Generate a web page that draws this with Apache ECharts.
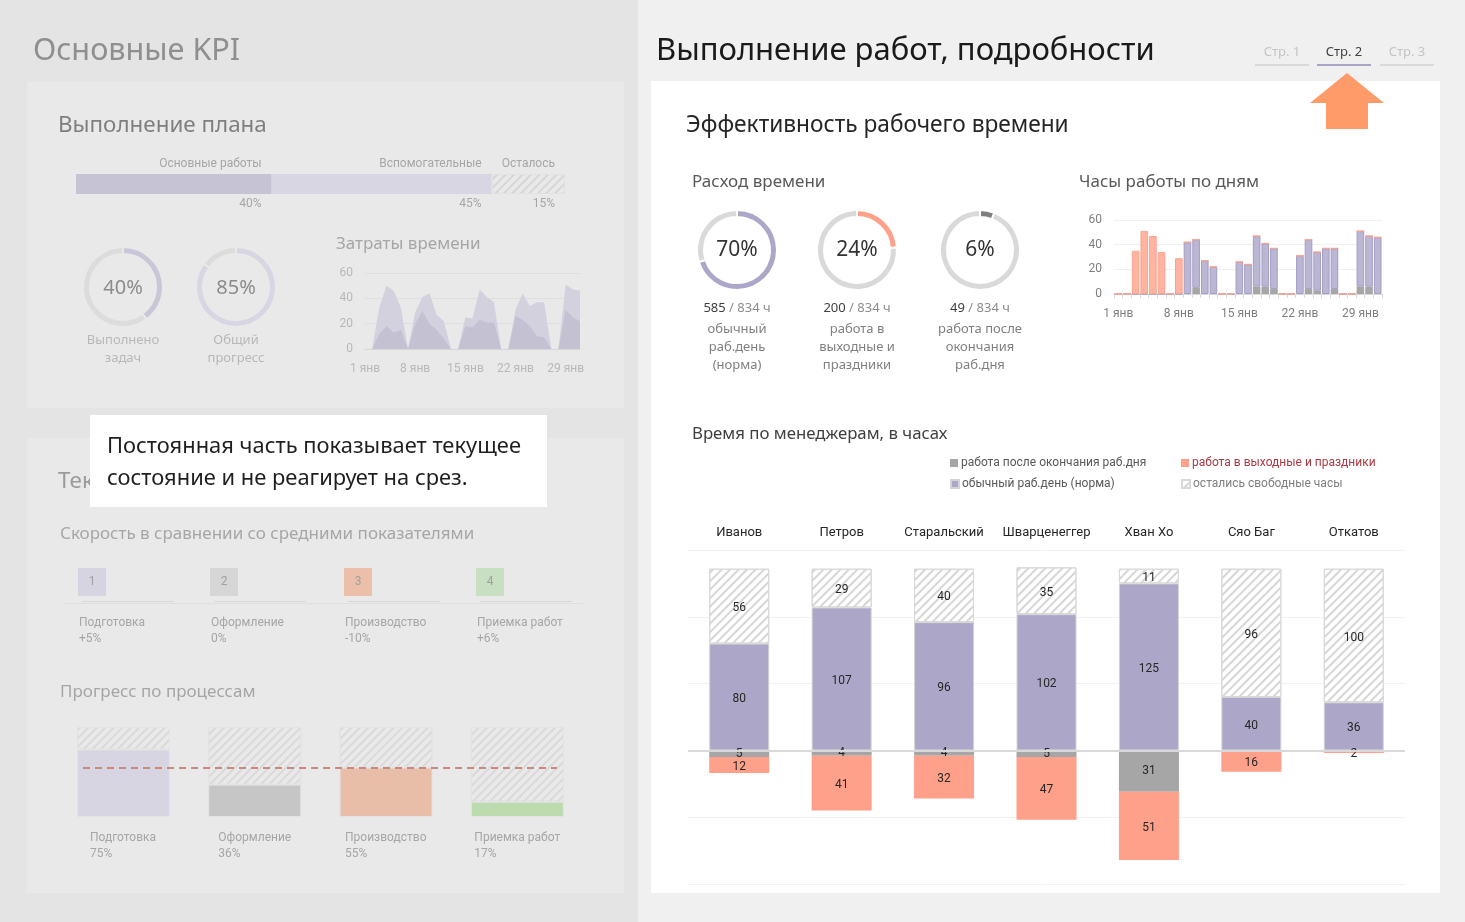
<!DOCTYPE html>
<html><head><meta charset="utf-8">
<script src="https://cdn.jsdelivr.net/npm/echarts@6/dist/echarts.min.js"></script>
<style>html,body{margin:0;padding:0;background:#f0f0f0;overflow:hidden}#c{width:1465px;height:922px}</style>
</head><body><div id="c"></div>
<script>
// ---------- DATA ----------
const planNames = ['Основные работы', 'Вспомогательные', 'Осталось'];
const planValues = [40, 45, 15];
const kpiNames = [['Выполнено', 'задач'], ['Общий', 'прогресс']];
const kpiValues = [40, 85];
const dayLabels = ['1 янв','2 янв','3 янв','4 янв','5 янв','6 янв','7 янв','8 янв','9 янв','10 янв','11 янв','12 янв','13 янв','14 янв','15 янв','16 янв','17 янв','18 янв','19 янв','20 янв','21 янв','22 янв','23 янв','24 янв','25 янв','26 янв','27 янв','28 янв','29 янв','30 янв','31 янв'];
const costTotal = [0,0,33,50,46,33,0,29,41,44,27,22,0,0,25,24,47,41,37,0,0,31,44,34,37,37,0,0,51,47,46];
const costInner = [0,0,12,18,13,15,0,20,30,20,15,8,0,0,18,17,23,21,21,0,0,26,23,18,10,9,0,0,31,25,22];
const speedNums = ['1', '2', '3', '4'];
const speedNames = ['Подготовка', 'Оформление', 'Производство', 'Приемка работ'];
const speedValues = ['+5%', '0%', '-10%', '+6%'];
const progressNames = ['Подготовка', 'Оформление', 'Производство', 'Приемка работ'];
const progressValues = [75, 36, 55, 17];
const progressAvg = 55;

const donutValues = [585, 200, 49];
const donutTotal = 834;
const donutNames = [['обычный', 'раб.день', '(норма)'], ['работа в', 'выходные и', 'праздники'], ['работа после', 'окончания', 'раб.дня']];

const dailyNorm    = [0,0,0,0,0,0,0,0,42,39,27,22,0,0,26,24,41,35,33,0,0,31,40,31,37,33,0,0,45,41,46];
const dailyWeekend = [0,0,35,51,47,34,0,29,0,0,0,0,0,0,0,0,0,0,0,0,0,0,0,0,0,0,0,0,0,0,0];
const dailyAfter   = [0,0,0,0,0,0,0,0,0,5,0,0,0,0,0,0,6,6,4,0,0,0,4,3,0,4,0,0,6,6,0];

const managers = ['Иванов', 'Петров', 'Старальский', 'Шварценеггер', 'Хван Хо', 'Сяо Баг', 'Откатов'];
const mgrNorm    = [80, 107, 96, 102, 125, 40, 36];
const mgrFree    = [56, 29, 40, 35, 11, 96, 100];
const mgrAfter   = [5, 4, 4, 5, 31, 0, 0];
const mgrWeekend = [12, 41, 32, 47, 51, 16, 2];

const seriesNames = ['работа после окончания раб.дня', 'работа в выходные и праздники', 'обычный раб.день (норма)', 'остались свободные часы'];

// ---------- STYLE ----------
const FONT = '"Noto Sans", "Open Sans", sans-serif';
const SMALL = 'Roboto, "Noto Sans", sans-serif';
const C_NORM = '#aca7c8', C_WEEK = '#ffa08a', C_AFTER = '#a6a6a6', C_EMPTY = '#d9d9d9';
const mctx = document.createElement('canvas').getContext('2d');
function textWidth(s, size, fam) { mctx.font = size + 'px ' + fam; return mctx.measureText(s).width; }
function hatch(bg, line, border) {
  return { color: bg, borderColor: border, borderWidth: 1,
    decal: { symbol: 'rect', symbolSize: 1, dashArrayX: [1, 0], dashArrayY: [1.5, 4], rotation: -Math.PI / 4, color: line } };
}
function txt(x, y, text, size, color, align, extra) {
  return { type: 'text', x: x, y: y, z: 20, silent: true,
    style: Object.assign({ text: text, fontSize: size, fill: color, fontFamily: FONT,
      align: align || 'left', verticalAlign: 'middle', textAlign: align || 'left', textVerticalAlign: 'middle' }, extra || {}) };
}
function rect(x, y, w, h, fill, z, extra) {
  return Object.assign({ type: 'rect', silent: true, z: z == null ? -10 : z, shape: { x: x, y: y, width: w, height: h }, style: { fill: fill } }, extra || {});
}

const g = [];
// backgrounds
g.push(rect(0, 0, 638, 922, '#e4e4e4', -20));
g.push(rect(638, 0, 827, 922, '#f0f0f0', -20));
g.push(rect(27, 82, 597, 326, '#e9e9e9', -15));
g.push(rect(27, 438, 597, 455, '#e9e9e9', -15));
g.push(rect(651, 81, 789, 812, '#ffffff', -15));

// left titles
g.push(txt(33, 51, 'Основные KPI', 30.6, '#8f8f8f'));
g.push(txt(58, 126, 'Выполнение плана', 22.4, '#7f7f7f'));
g.push(txt(336, 244, 'Затраты времени', 17, '#a6a6a6'));
g.push(txt(58, 482, 'Текущее состояние', 22.4, '#9a9a9a'));
g.push(txt(60, 534, 'Скорость в сравнении со средними показателями', 17, '#a6a6a6'));
g.push(txt(60, 692, 'Прогресс по процессам', 17, '#a6a6a6'));

// KPI donut texts
const kpiCenters = [123, 236];
kpiValues.forEach((v, i) => {
  g.push(txt(kpiCenters[i], 288, v + '%', 20, '#8c8c8c', 'center'));
  kpiNames[i].forEach((s, j) => g.push(txt(kpiCenters[i], 340 + j * 18, s, 13, '#b8b8b8', 'center')));
});

// speed blocks
const speedX = [78, 210, 344, 476];
const speedColors = ['#d6d4e1', '#d6d6d6', '#ebbfa9', '#c9dfc1'];
g.push(rect(63, 603, 520, 1, '#dfdfdf', -5));
speedNums.forEach((n, i) => {
  g.push(rect(speedX[i], 568, 28, 28, speedColors[i], -5));
  g.push(txt(speedX[i] + 14, 582, n, 12, '#a0a0a0', 'center', { fontFamily: SMALL }));
  g.push(rect(speedX[i] + 4, 601, 92, 1, '#d8d8d8', -5));
  g.push(txt(speedX[i] + 1, 623, speedNames[i], 12, '#a6a6a6', 'left', { fontFamily: SMALL }));
  g.push(txt(speedX[i] + 1, 639, speedValues[i], 12, '#a6a6a6', 'left', { fontFamily: SMALL }));
});

// callout
g.push(rect(90, 415, 457, 92, '#ffffff', 50));
g.push(txt(107, 447, 'Постоянная часть показывает текущее', 21.9, '#1f1f1f', 'left'));
g.push(txt(107, 479, 'состояние и не реагирует на срез.', 21.9, '#1f1f1f', 'left'));
g[g.length - 1].z = 60; g[g.length - 2].z = 60;

// right titles
g.push(txt(656, 51, 'Выполнение работ, подробности', 31, '#1a1a1a'));
g.push(txt(686, 126, 'Эффективность рабочего времени', 22.7, '#262626'));
g.push(txt(692, 182, 'Расход времени', 17, '#595959'));
g.push(txt(1079, 182, 'Часы работы по дням', 17, '#595959'));
g.push(txt(692, 434, 'Время по менеджерам, в часах', 16.8, '#404040'));

// tabs
const tabs = ['Стр. 1', 'Стр. 2', 'Стр. 3'];
const tabX = [1282, 1344, 1407];
tabs.forEach((t, i) => {
  const active = i === 1;
  g.push(txt(tabX[i], 52, t, 13, active ? '#404040' : '#c4c4c4', 'center'));
  g.push(rect(tabX[i] - 27, 64, 54, 2, active ? '#a9a5c6' : '#d9d9d9', -5));
});
g.push({ type: 'polygon', silent: true, z: 5, shape: { points: [[1347, 73], [1384, 103], [1368, 103], [1368, 129], [1326, 129], [1326, 103], [1310, 103]] }, style: { fill: '#ff9b68' } });

// donut texts
const donutX = [737, 857, 980];
donutValues.forEach((v, i) => {
  g.push(txt(donutX[i], 250, Math.round(v / donutTotal * 100) + '%', 21, '#333333', 'center'));
  g.push({ type: 'text', x: donutX[i], y: 308, z: 20, silent: true, style: {
    text: '{a|' + v + '} {b|/ ' + donutTotal + ' ч}', align: 'center', verticalAlign: 'middle', textAlign: 'center', textVerticalAlign: 'middle',
    rich: { a: { fontSize: 13, fill: '#404040', color: '#404040', fontFamily: FONT }, b: { fontSize: 13, fill: '#8c8c8c', color: '#8c8c8c', fontFamily: FONT } } } });
  donutNames[i].forEach((s, j) => g.push(txt(donutX[i], 329 + j * 18, s, 13, '#808080', 'center')));
});

// ---------- CHART ----------
const chart = echarts.init(document.getElementById('c'), null, { renderer: 'canvas' });

function donut(center, r, value, total, color, restColor, border) {
  return { type: 'pie', silent: true, center: center, radius: r, startAngle: 90, clockwise: true, animation: false,
    label: { show: false }, labelLine: { show: false },
    itemStyle: { borderColor: border, borderWidth: 2 },
    data: [{ value: value, itemStyle: { color: color } }, { value: total - value, itemStyle: { color: restColor } }] };
}

const planColors = [{ color: '#c6c4d4' }, { color: '#d8d6e2' }, hatch('#e9e9e9', '#d6d6d6', '#e2e2e2')];
const barLabel = { show: true, position: 'inside', offset: [0, 2], color: '#262626', fontSize: 12, fontFamily: SMALL };

const option = {
  animation: false,
  backgroundColor: 'transparent',
  textStyle: { fontFamily: FONT },
  graphic: { elements: g },
  grid: [
    { left: 76, top: 174, width: 489, height: 20 },
    { left: 365, top: 273, width: 215, height: 76 },
    { left: 57.8, top: 727, width: 525.2, height: 90 },
    { left: 1114, top: 220, width: 268, height: 74 },
    { left: 688, top: 550, width: 717, height: 334 }
  ],
  xAxis: [
    { gridIndex: 0, type: 'value', min: 0, max: 100, show: false },
    { gridIndex: 1, type: 'category', data: dayLabels, boundaryGap: false,
      axisLine: { lineStyle: { color: '#d6d6d6' } }, axisTick: { show: false },
      axisLabel: { interval: 6, color: '#b8b8b8', fontSize: 12, fontFamily: SMALL, margin: 14 } },
    { gridIndex: 2, type: 'category', data: progressNames, axisLine: { show: false }, axisTick: { show: false },
      axisLabel: { interval: 0, margin: 13, formatter: (v, i) => '{n' + i + '|' + v + '}\n{v' + i + '|' + progressValues[i] + '%}',
        rich: (() => { const r = {}; progressNames.forEach((v, i) => {
          const w = Math.ceil(textWidth(v, 12, 'Roboto'));
          r['n' + i] = { fontSize: 12, color: '#a6a6a6', width: w, align: 'left', lineHeight: 16, fontFamily: SMALL };
          r['v' + i] = { fontSize: 12, color: '#a6a6a6', width: w, align: 'left', lineHeight: 16, fontFamily: SMALL }; }); return r; })() } },
    { gridIndex: 3, type: 'category', data: dayLabels,
      axisLine: { lineStyle: { color: '#d9d9d9' } },
      axisTick: { show: true, interval: 0, length: 4, lineStyle: { color: '#d9d9d9' } },
      axisLabel: { interval: 6, color: '#7f7f7f', fontSize: 12, fontFamily: SMALL, margin: 14 } },
    { gridIndex: 4, type: 'category', data: managers, position: 'top', axisLine: { show: false }, axisTick: { show: false },
      axisLabel: { interval: 0, color: '#262626', fontSize: 13, margin: 11, fontFamily: SMALL } }
  ],
  yAxis: [
    { gridIndex: 0, type: 'category', data: ['План'], show: false },
    { gridIndex: 1, type: 'value', min: 0, max: 60, interval: 20,
      axisLabel: { color: '#b8b8b8', fontSize: 12, margin: 12, fontFamily: SMALL },
      splitLine: { lineStyle: { color: '#dedede' } }, axisLine: { show: false }, axisTick: { show: false } },
    { gridIndex: 2, type: 'value', min: 0, max: 100, show: false },
    { gridIndex: 3, type: 'value', min: 0, max: 60, interval: 20,
      axisLabel: { color: '#7f7f7f', fontSize: 12, margin: 12, fontFamily: SMALL },
      splitLine: { lineStyle: { color: '#f0f0f0' } }, axisLine: { show: false }, axisTick: { show: false } },
    { gridIndex: 4, type: 'value', min: -100, max: 150, interval: 50,
      axisLabel: { show: false }, axisLine: { show: false }, axisTick: { show: false },
      splitLine: { lineStyle: { color: '#f2f2f2' } } }
  ],
  legend: [
    { name: seriesNames[0], pos: [950, 457], color: '#595959' },
    { name: seriesNames[1], pos: [1181, 457], color: '#a83a44' },
    { name: seriesNames[2], pos: [950, 478], color: '#595959' },
    { name: seriesNames[3], pos: [1181, 478], color: '#7f7f7f' }
  ].map(l => ({ data: [{ name: l.name, textStyle: { color: l.color } }], left: l.pos[0], top: l.pos[1], padding: 0,
    itemWidth: 8, itemHeight: 8, icon: 'rect', selectedMode: false, itemGap: 0,
    textStyle: { fontSize: 12, fontFamily: SMALL, padding: [0, 0, 0, -2] } })),
  series: [
    // plan bar
    ...planNames.map((n, i) => ({ type: 'bar', xAxisIndex: 0, yAxisIndex: 0, stack: 'plan', silent: true, barWidth: 20,
      data: [planValues[i]], itemStyle: planColors[i],
      label: { show: true, position: 'insideRight', distance: 10,
        formatter: p => '{a|' + n + '}\n{s| }\n{b|' + p.value + '%}',
        rich: { a: { fontSize: 12, color: '#a6a6a6', lineHeight: 14, fontFamily: SMALL },
                s: { fontSize: 11, lineHeight: 26, height: 26 },
                b: { fontSize: 12, color: '#a6a6a6', lineHeight: 14, fontFamily: SMALL } } } })),
    // KPI donuts
    donut([123, 287], [33, 40], kpiValues[0], 100, '#c9c7d7', '#dcdcdc', '#e9e9e9'),
    donut([236, 287], [33, 40], kpiValues[1], 100, '#d8d6e2', '#dcdcdc', '#e9e9e9'),
    // cost areas
    { type: 'line', xAxisIndex: 1, yAxisIndex: 1, data: costTotal, symbol: 'none', silent: true,
      lineStyle: { width: 0 }, areaStyle: { color: '#d3d1de', opacity: 1 } },
    { type: 'line', xAxisIndex: 1, yAxisIndex: 1, data: costInner, symbol: 'none', silent: true, z: 3,
      lineStyle: { width: 0 }, areaStyle: { color: '#c4c1d3', opacity: 1 } },
    // progress bars
    { type: 'bar', xAxisIndex: 2, yAxisIndex: 2, stack: 'pr', barWidth: 93, silent: true,
      data: progressValues.map((v, i) => ({ value: v, itemStyle: { color: ['#d7d5e1', '#c6c6c6', '#e9bea9', '#bcdcaf'][i] } })),
      itemStyle: { borderColor: '#e3e3e3', borderWidth: 1 },
      markLine: { silent: true, symbol: 'none', label: { show: false },
        lineStyle: { color: '#c98a7c', type: [7, 5], width: 2 },
        data: [[{ x: 83, yAxis: progressAvg }, { x: 557, yAxis: progressAvg }]] } },
    { type: 'bar', xAxisIndex: 2, yAxisIndex: 2, stack: 'pr', barWidth: 93, silent: true,
      data: progressValues.map(v => 100 - v), itemStyle: hatch('#e9e9e9', '#d9d9d9', '#e3e3e3') },
    // right donuts
    donut([737, 250], [33, 40], donutValues[0], donutTotal, C_NORM, C_EMPTY, '#fff'),
    donut([857, 250], [33, 40], donutValues[1], donutTotal, C_WEEK, C_EMPTY, '#fff'),
    donut([980, 250], [33, 40], donutValues[2], donutTotal, '#7f7f7f', C_EMPTY, '#fff'),
    // daily bars
    { type: 'bar', xAxisIndex: 3, yAxisIndex: 3, stack: 'd', barCategoryGap: '12%', data: dailyAfter, silent: true,
      itemStyle: { color: C_AFTER } },
    { type: 'bar', xAxisIndex: 3, yAxisIndex: 3, stack: 'd', data: dailyNorm, silent: true,
      itemStyle: { color: '#bab6d3', borderColor: '#a39ec4', borderWidth: 1 } },
    { type: 'bar', xAxisIndex: 3, yAxisIndex: 3, stack: 'd', data: dailyWeekend, silent: true,
      itemStyle: { color: '#ffb4a1', borderColor: '#f9a48f', borderWidth: 1 } },
    // managers
    { name: seriesNames[2], type: 'bar', xAxisIndex: 4, yAxisIndex: 4, stack: 'm', barWidth: 60, data: mgrNorm, silent: true,
      itemStyle: { color: C_NORM, borderColor: '#d4d4d4', borderWidth: 1 },
      label: barLabel,
      markLine: { silent: true, symbol: 'none', label: { show: false }, lineStyle: { color: '#d9d9d9', width: 2, type: 'solid' }, data: [{ yAxis: 0 }] } },
    { name: seriesNames[3], type: 'bar', xAxisIndex: 4, yAxisIndex: 4, stack: 'm', data: mgrFree, silent: true,
      itemStyle: hatch('#ffffff', '#d6d6d6', '#d9d9d9'),
      label: barLabel },
    { name: seriesNames[0], type: 'bar', xAxisIndex: 4, yAxisIndex: 4, stack: 'm', data: mgrAfter.map(v => -v), silent: true,
      itemStyle: { color: C_AFTER },
      label: Object.assign({}, barLabel, { offset: [0, 0], formatter: p => p.value ? Math.abs(p.value) : '' }) },
    { name: seriesNames[1], type: 'bar', xAxisIndex: 4, yAxisIndex: 4, stack: 'm', data: mgrWeekend.map(v => -v), silent: true,
      itemStyle: { color: C_WEEK },
      label: Object.assign({}, barLabel, { formatter: p => p.value ? Math.abs(p.value) : '' }) }
  ]
};
chart.setOption(option);
</script>
</body></html>
